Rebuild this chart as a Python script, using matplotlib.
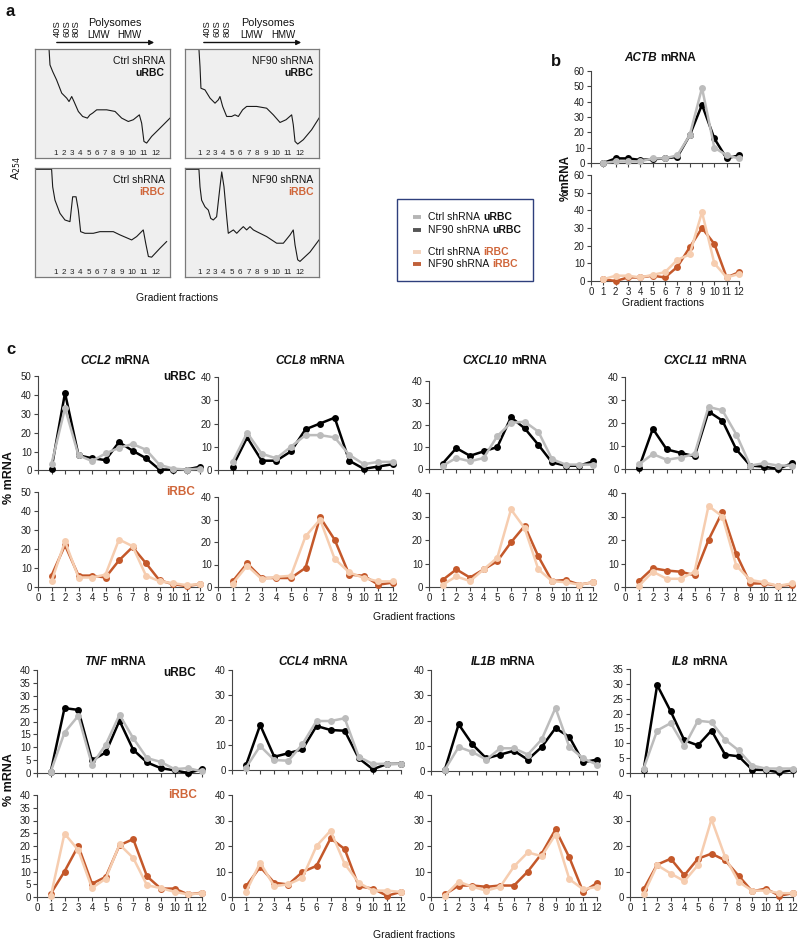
import numpy as np
import matplotlib
matplotlib.use('Agg')
import matplotlib.pyplot as plt
from matplotlib.offsetbox import TextArea, HPacker, AnnotationBbox
from matplotlib.lines import Line2D
from matplotlib.patches import Rectangle, FancyArrowPatch

plt.rcParams['font.family'] = ['Liberation Sans', 'DejaVu Sans']

# ---------------- data ----------------
fractions = list(range(1, 13))
tick_fractions = list(range(0, 13))

# panel a: A254 traces (x: % of box width, y: % of box height)
trace_ctrl_u_x = [10.4, 11.1, 13.1, 16.0, 19.8, 23.5, 25.2, 27.2, 28.9, 32.1, 35.3, 38.8, 40.7, 42.7, 45.7,
                  53.1, 59.3, 64.2, 69.1, 72.8, 77.3, 79.0, 80.7, 82.7, 86.4, 92.6, 100]
trace_ctrl_u_y = [100, 85.4, 79.3, 71.6, 59.5, 54.9, 51.8, 56.4, 51.8, 42.7, 38.1, 36.6, 39.6, 41.2, 44.2,
                  44.2, 42.7, 36.6, 33.5, 35.1, 39.6, 32.0, 15.2, 13.7, 19.8, 27.4, 36.6]
trace_nf90_u_x = [0, 10.4, 11.2, 11.9, 14.9, 18.7, 22.4, 24.9, 26.1, 28.1, 31.1, 34.8, 37.3, 39.8, 43.0, 46.0,
                  53.5, 60.9, 65.9, 70.9, 75.4, 79.6, 80.8, 82.1, 84.1, 88.3, 94.5, 100]
trace_nf90_u_y = [100, 100, 83.8, 64.0, 62.5, 54.9, 50.3, 53.4, 56.4, 47.3, 38.1, 38.1, 39.6, 38.1, 44.2, 47.3,
                  47.3, 45.7, 39.6, 32.6, 35.1, 39.6, 30.5, 15.2, 12.8, 16.8, 25.9, 36.6]
trace_ctrl_i_x = [0, 12.3, 13.1, 14.8, 18.5, 22.2, 25.9, 27.9, 30.4, 32.1, 33.8, 37.0, 43.2, 48.1, 58.0, 63.0,
                  71.6, 75.3, 80.2, 82.0, 84.0, 86.4, 92.6, 97.5]
trace_ctrl_i_y = [98.8, 98.8, 82.7, 70.5, 58.4, 52.3, 50.8, 73.6, 73.6, 61.4, 41.6, 40.1, 40.1, 41.6, 41.6, 38.6,
                  34.0, 37.1, 43.2, 31.0, 18.8, 18.2, 26.4, 32.5]
trace_nf90_i_x = [0, 10.4, 11.2, 12.4, 14.9, 17.4, 19.2, 21.1, 23.6, 26.1, 27.4, 29.1, 31.1, 32.3, 36.1, 38.6,
                  41.0, 43.5, 46.0, 48.5, 51.0, 53.5, 60.9, 68.4, 73.4, 78.4, 80.8, 82.1, 84.1, 85.8, 93.3, 100]
trace_nf90_i_y = [98.8, 98.8, 82.7, 70.5, 64.4, 61.4, 53.8, 52.3, 55.3, 82.7, 96.4, 82.7, 55.3, 40.1, 43.2, 40.1,
                  43.2, 46.2, 43.2, 46.2, 43.2, 41.6, 37.1, 31.0, 31.0, 38.6, 43.2, 29.5, 15.8, 14.3, 22.9, 34.0]

# panel b: ACTB (% mRNA per fraction)
ACTB_ctrl_u = [0, 1, 1, 1, 3, 3, 5, 18, 49, 10, 5, 3]
ACTB_nf90_u = [0, 3, 3, 2, 2.5, 3, 4, 18, 38, 16, 3, 5]
ACTB_ctrl_i = [1, 3, 3, 2, 3.5, 5, 12, 15, 39, 10, 2, 4]
ACTB_nf90_i = [1, 0, 2, 2, 3, 2, 8, 19, 30, 21, 2, 5]

# panel c
CCL2_ctrl_u = [3.5, 33, 8, 5, 9, 12, 14, 11, 3, 1, 0.5, 1]
CCL2_nf90_u = [1, 41, 8, 6.5, 5.5, 15, 10.5, 6.5, 0.5, 0.5, 0.5, 2]
CCL2_ctrl_i = [3, 24, 5, 5, 6.5, 25, 21.5, 6, 3, 2, 1, 1.5]
CCL2_nf90_i = [6, 22, 6, 6, 5, 14, 21, 12.5, 3.5, 1.5, 0.5, 1.5]

CCL8_ctrl_u = [3.5, 16, 7, 5, 10, 15, 15, 14, 6.5, 2.5, 3.5, 3.5]
CCL8_nf90_u = [1.5, 14, 4, 4, 8, 17.5, 20, 22.5, 4, 0.5, 1.5, 2.5]
CCL8_ctrl_i = [1.5, 9.5, 3.5, 4.5, 5, 22.5, 30, 12.5, 6.5, 4, 2.5, 2.5]
CCL8_nf90_i = [2.5, 10.5, 4, 4, 4, 8.5, 31, 21, 5.5, 5, 1, 2]

CXCL10_ctrl_u = [1.5, 5, 3.5, 5, 15, 21, 21.5, 17, 4.5, 2, 2, 2]
CXCL10_nf90_u = [2.5, 9.5, 6, 8, 10, 23.5, 18.5, 11, 3, 1.5, 1.5, 3.5]
CXCL10_ctrl_i = [1, 4.5, 2.5, 7.5, 12.5, 33, 25, 7.5, 2.5, 2, 1, 2]
CXCL10_nf90_i = [3, 7.5, 4, 7.5, 11, 19, 26, 13, 2.5, 3, 1, 2]

CXCL11_ctrl_u = [2, 6.5, 4, 5, 6.5, 27, 25.5, 15, 1.5, 2.5, 1.5, 1.5]
CXCL11_nf90_u = [0.5, 17.5, 8.5, 7, 5.5, 25, 21, 8.5, 1.5, 1, 0, 2.5]
CXCL11_ctrl_i = [0.5, 6.5, 3.5, 3.5, 6.5, 34.5, 30, 9, 3, 2, 0.5, 1.5]
CXCL11_nf90_i = [2.5, 8, 7, 6.5, 5, 20, 32, 14, 1.5, 1.5, 0.5, 1]

TNF_ctrl_u = [0.5, 15.7, 22.2, 3.2, 11, 22.6, 13.5, 5.8, 4.3, 1.5, 1.9, 0.6]
TNF_nf90_u = [0.5, 25.2, 24.5, 4.9, 8, 20.3, 9, 4.1, 1.9, 1, 0, 1.5]
TNF_ctrl_i = [0.3, 24.9, 18.4, 3.5, 7.2, 20.6, 15.3, 4.6, 3.5, 2, 1, 1.5]
TNF_nf90_i = [1.3, 10, 20, 5.2, 7.9, 20.3, 22.7, 8.1, 3.3, 3.3, 1, 1.7]

CCL4_ctrl_u = [1, 9.6, 4, 3.7, 10.3, 19.6, 19.6, 20.7, 5.3, 2.4, 2.5, 2.5]
CCL4_nf90_u = [2, 18, 5.3, 6.7, 8.3, 17.6, 16, 15.7, 4.7, 0.3, 2.4, 2.5]
CCL4_ctrl_i = [2, 13.5, 4.2, 5, 7.5, 20, 26, 13, 5.6, 2.5, 2.5, 2]
CCL4_nf90_i = [4.2, 11.8, 5.6, 4.9, 9.8, 12.2, 23, 18.8, 4.2, 3.3, 0.5, 2]

IL1B_ctrl_u = [0.5, 9.5, 7.5, 4.5, 9, 9, 6.5, 12.5, 25, 9.5, 5, 2.5]
IL1B_nf90_u = [0.5, 18.5, 10.5, 5, 6.5, 8, 4.5, 9.5, 17, 13.5, 3.5, 4.5]
IL1B_ctrl_i = [0.5, 6, 4, 2.5, 4, 12, 17.5, 16, 24.5, 7, 3, 4]
IL1B_nf90_i = [1, 4.5, 4.5, 4, 4.5, 4.5, 10, 17, 26.5, 15.5, 2, 5.5]

IL8_ctrl_u = [1.5, 14.3, 16.8, 9, 17.6, 17.1, 11.2, 7.6, 2.5, 1.5, 1.5, 1.5]
IL8_nf90_u = [0.9, 29.6, 20.7, 11, 9.3, 14.3, 6.2, 5.6, 1.1, 1, 0.2, 1]
IL8_ctrl_i = [1, 12.5, 9.2, 6.2, 12.5, 30.5, 15.7, 5.9, 2.5, 2.5, 1.5, 1.5]
IL8_nf90_i = [3, 12.7, 15, 8.5, 15, 17, 14.4, 8.3, 2.2, 3.3, 0.5, 1.5]

genes = ['CCL2', 'CCL8', 'CXCL10', 'CXCL11', 'TNF', 'CCL4', 'IL1B', 'IL8']
gene_data = {
    'CCL2': (CCL2_ctrl_u, CCL2_nf90_u, CCL2_ctrl_i, CCL2_nf90_i),
    'CCL8': (CCL8_ctrl_u, CCL8_nf90_u, CCL8_ctrl_i, CCL8_nf90_i),
    'CXCL10': (CXCL10_ctrl_u, CXCL10_nf90_u, CXCL10_ctrl_i, CXCL10_nf90_i),
    'CXCL11': (CXCL11_ctrl_u, CXCL11_nf90_u, CXCL11_ctrl_i, CXCL11_nf90_i),
    'TNF': (TNF_ctrl_u, TNF_nf90_u, TNF_ctrl_i, TNF_nf90_i),
    'CCL4': (CCL4_ctrl_u, CCL4_nf90_u, CCL4_ctrl_i, CCL4_nf90_i),
    'IL1B': (IL1B_ctrl_u, IL1B_nf90_u, IL1B_ctrl_i, IL1B_nf90_i),
    'IL8': (IL8_ctrl_u, IL8_nf90_u, IL8_ctrl_i, IL8_nf90_i),
}
# y-axis (max, step) for uRBC and iRBC panels
gene_yaxis_u = {'CCL2': (50, 10), 'CCL8': (40, 10), 'CXCL10': (40, 10), 'CXCL11': (40, 10),
                'TNF': (40, 5), 'CCL4': (40, 10), 'IL1B': (40, 10), 'IL8': (35, 5)}
gene_yaxis_i = {'CCL2': (50, 10), 'CCL8': (40, 10), 'CXCL10': (40, 10), 'CXCL11': (40, 10),
                'TNF': (40, 5), 'CCL4': (40, 10), 'IL1B': (40, 10), 'IL8': (40, 10)}

# ---------------- style ----------------
C_CTRL_U = '#bcbcbc'
C_NF90_U = '#000000'
C_CTRL_I = '#f6cdb0'
C_NF90_I = '#c4582a'
C_ORANGE_TXT = '#d0663a'
C_TXT = '#111111'
C_AX = '#444444'

W, H = 800, 944
fig = plt.figure(figsize=(8, 9.44), dpi=100)


def add_ax(x0, x1, ytop, ybot):
    return fig.add_axes([x0 / W, 1 - ybot / H, (x1 - x0) / W, (ybot - ytop) / H])


def ftext(x, y, s, **kw):
    return fig.text(x / W, 1 - y / H, s, **kw)


def mixed(x, y, parts, align=(0.5, 0.5), sep=2.5):
    boxes = [TextArea(t, textprops=p) for t, p in parts]
    pack = HPacker(children=boxes, align='baseline', pad=0, sep=sep)
    ab = AnnotationBbox(pack, (x / W, 1 - y / H), xycoords='figure fraction',
                        box_alignment=align, frameon=False, pad=0)
    fig.add_artist(ab)


def style_ax(ax, ymax, ystep, xlabels):
    ax.set_xlim(0, 12)
    ax.set_ylim(0, ymax)
    ax.set_xticks(tick_fractions)
    ax.set_yticks(np.arange(0, ymax + 0.01, ystep))
    for s in ['top', 'right']:
        ax.spines[s].set_visible(False)
    for s in ['left', 'bottom']:
        ax.spines[s].set_color(C_AX)
        ax.spines[s].set_linewidth(0.8)
    ax.tick_params(direction='out', length=3, width=0.8, color=C_AX,
                   labelsize=7, labelcolor='#222222', pad=1.5)
    if not xlabels:
        ax.tick_params(axis='x', labelbottom=False)
    ax.patch.set_alpha(0)


def draw_series(ax, ys, color, lw=1.8, ms=5):
    ax.plot(fractions, ys, color=color, lw=lw, marker='o', ms=ms, mew=0,
            solid_joinstyle='round', clip_on=False, zorder=3)


# ---------------- panel a ----------------
ftext(6, 12, 'a', fontsize=12, fontweight='bold', va='center', ha='left', color=C_TXT)

box_geo = {
    'ctrl_u': (35, 170, 49, 158),
    'nf90_u': (185, 319, 49, 158),
    'ctrl_i': (35, 170, 168, 277),
    'nf90_i': (185, 319, 168, 277),
}
box_traces = {
    'ctrl_u': (trace_ctrl_u_x, trace_ctrl_u_y),
    'nf90_u': (trace_nf90_u_x, trace_nf90_u_y),
    'ctrl_i': (trace_ctrl_i_x, trace_ctrl_i_y),
    'nf90_i': (trace_nf90_i_x, trace_nf90_i_y),
}
box_labels = {
    'ctrl_u': ('Ctrl shRNA', 'uRBC', C_TXT),
    'nf90_u': ('NF90 shRNA', 'uRBC', C_TXT),
    'ctrl_i': ('Ctrl shRNA', 'iRBC', C_ORANGE_TXT),
    'nf90_i': ('NF90 shRNA', 'iRBC', C_ORANGE_TXT),
}
label_pos_left = [15.6, 21.5, 27.4, 33.3, 39.8, 45.7, 51.6, 58.0, 64.4, 72.1, 80.2, 89.4]
label_pos_right = [10.7, 16.7, 22.6, 28.6, 35.1, 41.0, 47.3, 53.5, 60.2, 67.9, 76.4, 86.1]

for key, (x0, x1, yt, yb) in box_geo.items():
    ax = add_ax(x0, x1, yt, yb)
    ax.set_xlim(0, 100)
    ax.set_ylim(0, 100)
    ax.set_facecolor('#efefef')
    for s in ax.spines.values():
        s.set_color('#7a7a7a')
        s.set_linewidth(0.9)
    ax.set_xticks([])
    ax.set_yticks([])
    tx, ty = box_traces[key]
    ax.plot(tx, ty, color='#1a1a1a', lw=0.8, clip_on=True)
    pos = label_pos_left if key.startswith('ctrl') else label_pos_right
    ylab = 4.5 if key.endswith('_u') else 4.0
    for p, f in zip(pos, fractions):
        ax.text(p, ylab, str(f), fontsize=5.8, ha='center', va='center', color='#222222')
    l1, l2, c2 = box_labels[key]
    ax.text(96, 89, l1, fontsize=7.5, ha='right', va='center', color=C_TXT)
    ax.text(96, 78, l2, fontsize=7.5, ha='right', va='center', color=c2, fontweight='bold')

# headers above boxes
for (ax0, sub_x, poly_x, lmw_x, hmw_x, ar0, ar1) in [
        (0, (57.5, 66.5, 76), 115, 99, 129, 54, 157),
        (1, (207, 217, 227), 268, 252, 283, 201, 304)]:
    for xx, s in zip(sub_x, ['40S', '60S', '80S']):
        ftext(xx, 29, s, fontsize=6.8, rotation=90, ha='center', va='center', color=C_TXT)
    ftext(poly_x, 23, 'Polysomes', fontsize=7.8, ha='center', va='center', color=C_TXT)
    ftext(lmw_x, 35, 'LMW', fontsize=7, ha='center', va='center', color=C_TXT)
    ftext(hmw_x, 35, 'HMW', fontsize=7, ha='center', va='center', color=C_TXT)
    arr = FancyArrowPatch((ar0 / W, 1 - 42.5 / H), (ar1 / W, 1 - 42.5 / H), transform=fig.transFigure,
                          arrowstyle='-|>', mutation_scale=7, lw=1.0, color=C_TXT)
    fig.add_artist(arr)

ftext(16, 168, r'A$_{254}$', fontsize=8, rotation=90, ha='center', va='center', color=C_TXT)
ftext(177, 298, 'Gradient fractions', fontsize=7.5, ha='center', va='center', color=C_TXT)

# ---------------- legend ----------------
leg = Rectangle((397 / W, 1 - 281 / H), (533 - 397) / W, (281 - 199) / H, transform=fig.transFigure,
                facecolor='white', edgecolor='#2e3f7c', lw=1.0)
fig.add_artist(leg)
legend_items = [
    (217, '#b5b5b5', 'Ctrl shRNA', 'uRBC', C_TXT),
    (230, '#555555', 'NF90 shRNA', 'uRBC', C_TXT),
    (252, '#f3d3bd', 'Ctrl shRNA', 'iRBC', C_ORANGE_TXT),
    (264, '#c0603a', 'NF90 shRNA', 'iRBC', C_ORANGE_TXT),
]
for yy, col, t1, t2, c2 in legend_items:
    fig.add_artist(Line2D([413 / W, 421 / W], [1 - yy / H, 1 - yy / H], transform=fig.transFigure,
                          color=col, lw=2.8, solid_capstyle='butt'))
    mixed(428, yy, [(t1, dict(fontsize=7.5, color=C_TXT)),
                    (t2, dict(fontsize=7.5, color=c2, fontweight='bold'))], align=(0, 0.5), sep=2.2)

# ---------------- panel b ----------------
ftext(551, 62, 'b', fontsize=12, fontweight='bold', va='center', ha='left', color=C_TXT)
axb1 = add_ax(591, 739, 71, 163)
style_ax(axb1, 60, 10, False)
draw_series(axb1, ACTB_nf90_u, C_NF90_U)
draw_series(axb1, ACTB_ctrl_u, C_CTRL_U)
axb2 = add_ax(591, 739, 175, 281)
style_ax(axb2, 60, 10, True)
draw_series(axb2, ACTB_nf90_i, C_NF90_I)
draw_series(axb2, ACTB_ctrl_i, C_CTRL_I)
mixed(660, 58, [('ACTB', dict(fontsize=8.5, fontweight='bold', fontstyle='italic', color=C_TXT)),
                ('mRNA', dict(fontsize=8.5, fontweight='bold', color=C_TXT))])
ftext(566, 178, '%mRNA', fontsize=8.5, fontweight='bold', rotation=90, ha='center', va='center', color=C_TXT)
ftext(663, 303, 'Gradient fractions', fontsize=7.5, ha='center', va='center', color=C_TXT)

# ---------------- panel c ----------------
ftext(6, 349, 'c', fontsize=12, fontweight='bold', va='center', ha='left', color=C_TXT)

# geometry per gene: (x0, x1, u_top, u_bot, i_top, i_bot, title_x, title_y)
gene_geo = {
    'CCL2': (38, 200, 376, 470.5, 492, 587, 115, 361),
    'CCL8': (218, 393, 377, 470, 497, 587, 310, 361),
    'CXCL10': (429, 593, 381, 469, 493, 587, 505, 361),
    'CXCL11': (625, 792, 377, 469, 493, 587, 705, 361),
    'TNF': (37, 202, 670, 773, 795, 897, 115, 662),
    'CCL4': (232, 401, 670, 770, 795, 897, 313, 662),
    'IL1B': (431, 597, 670, 771, 795, 897, 503, 662),
    'IL8': (630, 793, 669, 773, 795, 897, 700, 662),
}

for g in genes:
    x0, x1, ut, ub, it, ib, tx_, ty = gene_geo[g]
    cu, nu, ci, ni = gene_data[g]
    ymu, ysu = gene_yaxis_u[g]
    ymi, ysi = gene_yaxis_i[g]
    axu = add_ax(x0, x1, ut, ub)
    style_ax(axu, ymu, ysu, False)
    draw_series(axu, nu, C_NF90_U)
    draw_series(axu, cu, C_CTRL_U)
    axi = add_ax(x0, x1, it, ib)
    style_ax(axi, ymi, ysi, True)
    draw_series(axi, ni, C_NF90_I)
    draw_series(axi, ci, C_CTRL_I)
    mixed(tx_, ty, [(g, dict(fontsize=8.5, fontweight='bold', fontstyle='italic', color=C_TXT)),
                    ('mRNA', dict(fontsize=8.5, fontweight='bold', color=C_TXT))])

ftext(180, 377, 'uRBC', fontsize=8.5, fontweight='bold', ha='center', va='center', color=C_TXT)
ftext(181, 492, 'iRBC', fontsize=8.5, fontweight='bold', ha='center', va='center', color=C_ORANGE_TXT)
ftext(180, 673, 'uRBC', fontsize=8.5, fontweight='bold', ha='center', va='center', color=C_TXT)
ftext(183, 795, 'iRBC', fontsize=8.5, fontweight='bold', ha='center', va='center', color=C_ORANGE_TXT)

ftext(9, 478, '% mRNA', fontsize=9, fontweight='bold', rotation=90, ha='center', va='center', color=C_TXT)
ftext(9, 780, '% mRNA', fontsize=9, fontweight='bold', rotation=90, ha='center', va='center', color=C_TXT)
ftext(414, 617, 'Gradient fractions', fontsize=7.5, ha='center', va='center', color=C_TXT)
ftext(414, 935, 'Gradient fractions', fontsize=7.5, ha='center', va='center', color=C_TXT)

fig.savefig('out.png', dpi=100, facecolor='white')
